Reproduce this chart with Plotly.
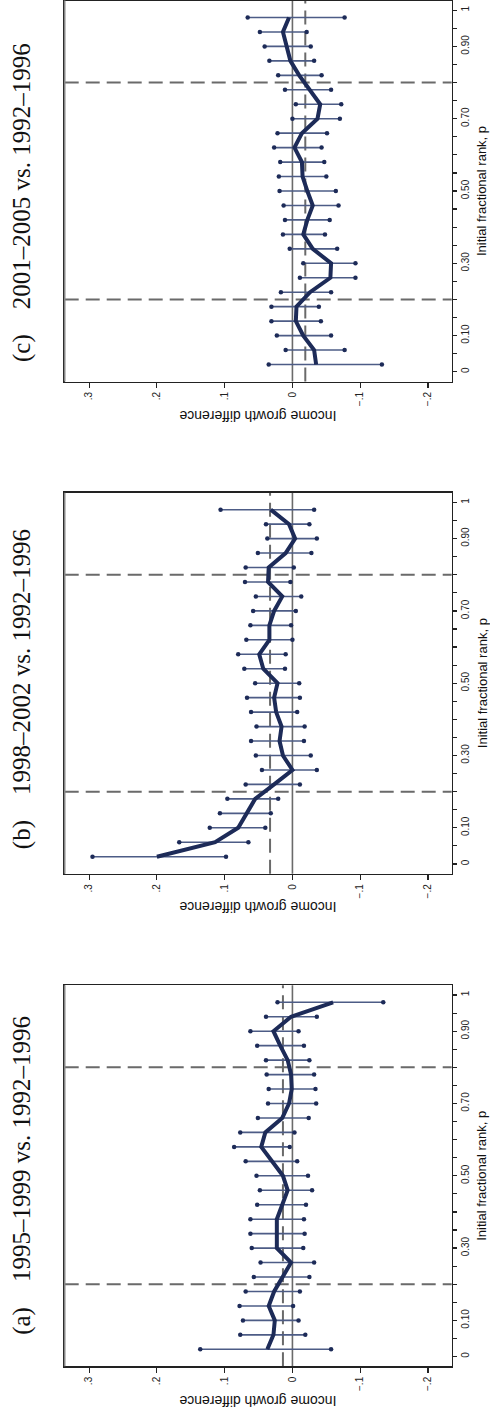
import plotly.graph_objects as go

# ---------------- data ----------------
p_rank = [0.02, 0.06, 0.10, 0.14, 0.18, 0.22, 0.26, 0.30, 0.34, 0.38, 0.42, 0.46, 0.50,
          0.54, 0.58, 0.62, 0.66, 0.70, 0.74, 0.78, 0.82, 0.86, 0.90, 0.94, 0.98]

est_a = [0.037, 0.028, 0.026, 0.035, 0.027, 0.014, 0.002, 0.023, 0.023, 0.023, 0.015, 0.007, 0.014,
         0.030, 0.046, 0.040, 0.015, 0.005, 0.001, 0.002, 0.007, 0.018, 0.028, 0.002, -0.060]
hi_a = [0.136, 0.077, 0.073, 0.078, 0.069, 0.057, 0.047, 0.060, 0.062, 0.062, 0.052, 0.048, 0.053,
        0.069, 0.086, 0.077, 0.051, 0.036, 0.035, 0.038, 0.039, 0.052, 0.062, 0.039, 0.022]
lo_a = [-0.057, -0.019, -0.009, -0.001, -0.011, -0.025, -0.032, -0.016, -0.018, -0.017, -0.020, -0.029, -0.023,
        -0.007, 0.004, -0.003, -0.024, -0.035, -0.034, -0.032, -0.025, -0.017, -0.009, -0.036, -0.134]

est_b = [0.200, 0.114, 0.080, 0.068, 0.055, 0.027, 0.000, 0.014, 0.019, 0.016, 0.024, 0.027, 0.022,
         0.043, 0.049, 0.034, 0.034, 0.027, 0.015, 0.036, 0.035, 0.010, -0.004, 0.005, 0.032]
hi_b = [0.295, 0.167, 0.122, 0.107, 0.096, 0.069, 0.045, 0.054, 0.061, 0.053, 0.061, 0.067, 0.055,
        0.071, 0.080, 0.068, 0.062, 0.058, 0.054, 0.070, 0.069, 0.051, 0.037, 0.039, 0.106]
lo_b = [0.098, 0.065, 0.040, 0.032, 0.021, -0.011, -0.036, -0.027, -0.017, -0.018, -0.007, -0.011, -0.010,
        0.011, 0.010, 0.000, 0.002, -0.005, -0.013, 0.003, -0.002, -0.028, -0.036, -0.025, -0.032]

est_c = [-0.035, -0.032, -0.016, -0.005, -0.006, -0.026, -0.056, -0.057, -0.030, -0.016, -0.022, -0.030, -0.022,
         -0.015, -0.014, -0.003, -0.014, -0.037, -0.041, -0.025, -0.010, 0.003, 0.008, 0.014, 0.005]
hi_c = [0.035, 0.010, 0.023, 0.031, 0.031, 0.017, -0.011, -0.016, 0.004, 0.014, 0.011, 0.013, 0.019,
        0.020, 0.018, 0.027, 0.022, 0.000, -0.005, 0.011, 0.021, 0.034, 0.041, 0.048, 0.066]
lo_c = [-0.132, -0.077, -0.057, -0.042, -0.039, -0.057, -0.093, -0.093, -0.066, -0.048, -0.055, -0.068, -0.064,
        -0.050, -0.047, -0.043, -0.051, -0.070, -0.072, -0.057, -0.043, -0.032, -0.027, -0.021, -0.077]

mean_lines = [0.014, 0.033, -0.019]
cutoffs = [0.2, 0.8]

panel_titles = ["(a)\u00a0\u00a0\u00a0\u00a01995\u20131999 vs. 1992\u20131996",
                "(b)\u00a0\u00a0\u00a0\u00a01998\u20132002 vs. 1992\u20131996",
                "(c)\u00a0\u00a0\u00a0\u00a02001\u20132005 vs. 1992\u20131996"]

val_tickvals = [0.3, 0.2, 0.1, 0.0, -0.1, -0.2]
val_ticktext = [".3", ".2", ".1", "0", "\u2212.1", "\u2212.2"]
p_tickvals = [0.0, 0.05, 0.10, 0.15, 0.20, 0.25, 0.30, 0.35, 0.40, 0.45, 0.50,
              0.55, 0.60, 0.65, 0.70, 0.75, 0.80, 0.85, 0.90, 0.95, 1.0]
p_ticktext = ["0", "", "0.10", "", "", "", "0.30", "", "", "", "0.50",
              "", "", "", "0.70", "", "", "", "0.90", "", "1"]

x_title = "Income growth difference"
y_title = "Initial fractional rank, p"

# ---------------- figure ----------------
W, H = 490, 1422
NAVY = "#1d2b58"
CI_COL = "#4d5c86"
GRAY = "#6a6a6a"

panels = [(est_a, lo_a, hi_a), (est_b, lo_b, hi_b), (est_c, lo_c, hi_c)]
box_top_px = [985.3, 492.7, 0.5]
title_shift_px = [0, 6, 12]
box_h_px = 381.0
box_left_px, box_right_px = 64.7, 451.7

fig = go.Figure()
layout = dict(width=W, height=H, margin=dict(l=0, r=0, t=0, b=0),
              paper_bgcolor="white", plot_bgcolor="white", showlegend=False)
shapes = []
annotations = []

for i, (est, lo, hi) in enumerate(panels):
    sfx = "" if i == 0 else str(i + 1)
    xa, ya = "x" + sfx, "y" + sfx
    top = box_top_px[i]
    bot = top + box_h_px
    ydom = [max(0.0, 1 - bot / H), min(1.0, 1 - top / H)]

    # confidence intervals (segments with dot ends)
    cx, cy = [], []
    for pv, l, h in zip(p_rank, lo, hi):
        cx += [h, l, None]
        cy += [pv, pv, None]
    fig.add_trace(go.Scatter(x=cx, y=cy, mode="lines+markers", xaxis=xa, yaxis=ya,
                             line=dict(color=CI_COL, width=1.6),
                             marker=dict(color=NAVY, size=4.5), hoverinfo="skip"))
    # point estimate line
    fig.add_trace(go.Scatter(x=est, y=p_rank, mode="lines", xaxis=xa, yaxis=ya,
                             line=dict(color=NAVY, width=4), hoverinfo="skip"))

    layout["xaxis" + sfx] = dict(
        domain=[box_left_px / W, box_right_px / W], anchor=ya,
        range=[0.336, -0.235], tickvals=val_tickvals, ticktext=val_ticktext,
        tickangle=-90, ticks="outside", ticklen=5, tickwidth=1.2, tickcolor="#222",
        showline=True, linecolor="#222", linewidth=1.5, mirror=True,
        showgrid=False, zeroline=False,
        tickfont=dict(family="Liberation Sans", size=10, color="#222"))
    layout["yaxis" + sfx] = dict(
        domain=ydom, anchor=xa, side="right",
        range=[-0.027, 1.027], tickvals=p_tickvals, ticktext=p_ticktext,
        tickangle=-90, ticks="outside", ticklen=4, tickwidth=1.2, tickcolor="#222",
        showline=True, linecolor="#222", linewidth=1.5, mirror=True,
        showgrid=False, zeroline=False,
        tickfont=dict(family="Liberation Sans", size=10, color="#222"))

    # zero line
    shapes.append(dict(type="line", xref=xa, yref=ya + " domain", x0=0, x1=0, y0=0, y1=1,
                       line=dict(color=GRAY, width=1.6), layer="below"))
    # mean dashed line
    shapes.append(dict(type="line", xref=xa, yref=ya + " domain", x0=mean_lines[i], x1=mean_lines[i],
                       y0=0, y1=1, line=dict(color=GRAY, width=2, dash="14px,7px"), layer="below"))
    # cutoff dashed lines
    for c in cutoffs:
        shapes.append(dict(type="line", xref=xa + " domain", yref=ya, x0=0, x1=1, y0=c, y1=c,
                           line=dict(color=GRAY, width=2, dash="14px,7px"), layer="below"))
    # gray left frame edge
    shapes.append(dict(type="line", xref="paper", yref="paper",
                       x0=box_left_px / W, x1=box_left_px / W, y0=ydom[0], y1=ydom[1],
                       line=dict(color="#888", width=1.6)))

    # panel title (rotated)
    annotations.append(dict(text=panel_titles[i], xref="paper", yref="paper",
                            x=22 / W, y=1 - (top + box_h_px / 2 + title_shift_px[i]) / H,
                            xanchor="center", yanchor="middle", textangle=-90, showarrow=False,
                            font=dict(family="Liberation Serif", size=25, color="#111")))
    # x-axis title (upside down)
    annotations.append(dict(text=x_title, xref="paper", yref="paper",
                            x=(box_left_px + box_right_px) / 2 / W, y=1 - (bot + 34) / H,
                            xanchor="center", yanchor="middle", textangle=180, showarrow=False,
                            font=dict(family="Liberation Sans", size=14, color="#111")))
    # y-axis title (rotated)
    annotations.append(dict(text=y_title, xref="paper", yref="paper",
                            x=482 / W, y=1 - (top + box_h_px / 2) / H,
                            xanchor="center", yanchor="middle", textangle=-90, showarrow=False,
                            borderpad=0,
                            font=dict(family="Liberation Sans", size=13, color="#111")))

layout["shapes"] = shapes
layout["annotations"] = annotations
fig.update_layout(**layout)
fig.write_html("out.html",
               config={"displayModeBar": False, "staticPlot": True},
               post_script="document.body.style.margin='0';document.body.style.padding='0';"
                           "document.body.style.overflow='hidden';")
